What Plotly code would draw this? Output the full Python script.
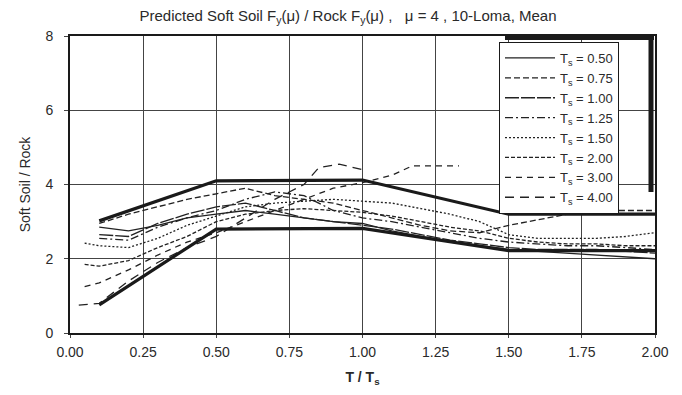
import plotly.graph_objects as go

# ---- data ----
x_grid = [0.1, 0.2, 0.3, 0.4, 0.5, 0.6, 0.7, 0.8, 0.9, 1.0,
          1.1, 1.2, 1.3, 1.4, 1.5, 1.6, 1.7, 1.8, 1.9, 2.0]
x_grid_ext = [0.05] + x_grid

ts050 = [2.85, 2.75, 2.9, 3.1, 3.2, 3.3, 3.2, 3.1, 3.0, 2.95,
         2.75, 2.6, 2.45, 2.35, 2.25, 2.2, 2.15, 2.1, 2.05, 2.0]
ts075 = [2.95, 3.2, 3.4, 3.6, 3.75, 3.9, 3.7, 3.6, 3.5, 3.3,
         3.1, 2.9, 2.75, 2.7, 2.9, 3.05, 3.2, 3.3, 3.3, 3.3]
ts100 = [2.65, 2.6, 2.95, 3.2, 3.4, 3.5, 3.3, 3.1, 3.0, 2.9,
         2.8, 2.65, 2.5, 2.4, 2.3, 2.25, 2.25, 2.25, 2.2, 2.15]
ts125 = [2.55, 2.5, 2.85, 3.1, 3.3, 3.6, 3.8, 3.7, 3.3, 3.1,
         3.0, 2.85, 2.7, 2.55, 2.45, 2.4, 2.35, 2.35, 2.3, 2.25]
ts150 = [2.42, 2.35, 2.3, 2.55, 2.9, 3.15, 3.4, 3.5, 3.55, 3.6, 3.55,
         3.5, 3.35, 3.2, 3.0, 2.65, 2.55, 2.55, 2.55, 2.6, 2.7]
ts200 = [1.85, 1.8, 1.95, 2.3, 2.6, 3.0, 3.2, 3.3, 3.35, 3.3, 3.25,
         3.15, 3.0, 2.85, 2.75, 2.55, 2.45, 2.4, 2.4, 2.35, 2.35]
x_ts300 = [0.05, 0.1, 0.2, 0.3, 0.4, 0.5, 0.6, 0.7, 0.8, 0.9, 1.0, 1.1, 1.17, 1.33]
ts300 = [1.25, 1.35, 1.7, 2.1, 2.45, 2.7, 3.0, 3.3, 3.6, 3.9, 4.05, 4.25, 4.5, 4.5]
x_ts400 = [0.03, 0.1, 0.2, 0.3, 0.4, 0.5, 0.6, 0.7, 0.8, 0.85, 0.92, 1.0]
ts400 = [0.75, 0.8, 1.4, 1.9, 2.3, 2.6, 3.1, 3.6, 4.0, 4.45, 4.55, 4.4]

x_bound = [0.1, 0.5, 1.0, 1.5, 2.0]
upper_bound = [3.02, 4.1, 4.12, 3.2, 3.2]
lower_bound = [0.76, 2.8, 2.82, 2.22, 2.22]

ts_labels = ["0.50", "0.75", "1.00", "1.25", "1.50", "2.00", "3.00", "4.00"]
x_ticks = [0, 0.25, 0.5, 0.75, 1.0, 1.25, 1.5, 1.75, 2.0]
y_ticks = [0, 2, 4, 6, 8]

series = [
    (x_grid, ts050, "solid"),
    (x_grid, ts075, "6px,3px"),
    (x_grid, ts100, "14px,2px"),
    (x_grid, ts125, "8px,3px,2px,3px"),
    (x_grid_ext, ts150, "2px,2px"),
    (x_grid_ext, ts200, "4px,2px"),
    (x_ts300, ts300, "6px,5px"),
    (x_ts400, ts400, "9px,6px"),
]

fig = go.Figure()
for (xs, ys, dash), lab in zip(series, ts_labels):
    fig.add_trace(go.Scatter(
        x=xs, y=ys, mode="lines", name=f"T<sub>s</sub> = {lab}",
        line=dict(color="#222222", width=1.3, dash=dash)))

for yb in (upper_bound, lower_bound):
    fig.add_trace(go.Scatter(x=x_bound, y=yb, mode="lines", showlegend=False,
                             line=dict(color="#1a1a1a", width=3.2)))

font_family = "Liberation Sans, Arial, sans-serif"

# page body has an 8px margin; figure is sized to fit the window
OFF = 8
L, T_ = 70 - OFF, 36 - OFF
PW, PH = 585, 297
W, H = 682 - OFF, 395 - OFF


def px_x(p):
    return (p - 70) / PW


def px_y(p):
    return (333 - p) / PH


# legend shadow (top and right thick edges)
fig.add_shape(type="line", xref="paper", yref="paper",
              x0=px_x(505), x1=px_x(654), y0=px_y(38), y1=px_y(38),
              line=dict(color="#1a1a1a", width=4))
fig.add_shape(type="line", xref="paper", yref="paper",
              x0=px_x(651), x1=px_x(651), y0=px_y(38), y1=px_y(192),
              line=dict(color="#1a1a1a", width=5))

fig.update_layout(
    width=W, height=H,
    margin=dict(l=L, r=W - L - PW, t=T_, b=H - T_ - PH, autoexpand=False),
    paper_bgcolor="white", plot_bgcolor="white",
    font=dict(family=font_family, size=14, color="#2a2a2a"),
    title=dict(text="Predicted Soft Soil F<sub>y</sub>(μ) / Rock F<sub>y</sub>(μ) ,   μ = 4 , 10-Loma, Mean",
               x=(348 - OFF) / W, xanchor="center", y=1 - 2 / H, yanchor="top",
               font=dict(size=15, family=font_family, color="#2a2a2a")),
    legend=dict(x=px_x(499), y=px_y(42), xanchor="left", yanchor="top",
                bgcolor="white", bordercolor="#1a1a1a", borderwidth=1,
                font=dict(size=13, family=font_family), tracegroupgap=0,
                itemwidth=50),
    showlegend=True,
)
fig.update_xaxes(range=[0, 2], tickvals=x_ticks, tickformat=".2f",
                 showgrid=True, gridcolor="#444444", gridwidth=1,
                 showline=True, linecolor="#1a1a1a", linewidth=1.6, mirror=True,
                 ticks="outside", ticklen=3, tickcolor="#444",
                 ticklabelstandoff=2, automargin=False,
                 tickfont=dict(size=14),
                 zeroline=False,
                 title=dict(text="<b>T / T<sub>s</sub></b>", standoff=14,
                            font=dict(size=14, family=font_family)))
fig.update_yaxes(range=[0, 8], tickvals=y_ticks,
                 showgrid=True, gridcolor="#444444", gridwidth=1,
                 showline=True, linecolor="#1a1a1a", linewidth=1.6, mirror=True,
                 ticks="outside", ticklen=4, tickcolor="#444",
                 ticklabelstandoff=8, automargin=False,
                 tickfont=dict(size=14),
                 zeroline=False,
                 title=dict(text="Soft Soil / Rock", standoff=12,
                            font=dict(size=14, family=font_family)))

fig.write_html("out.html")
